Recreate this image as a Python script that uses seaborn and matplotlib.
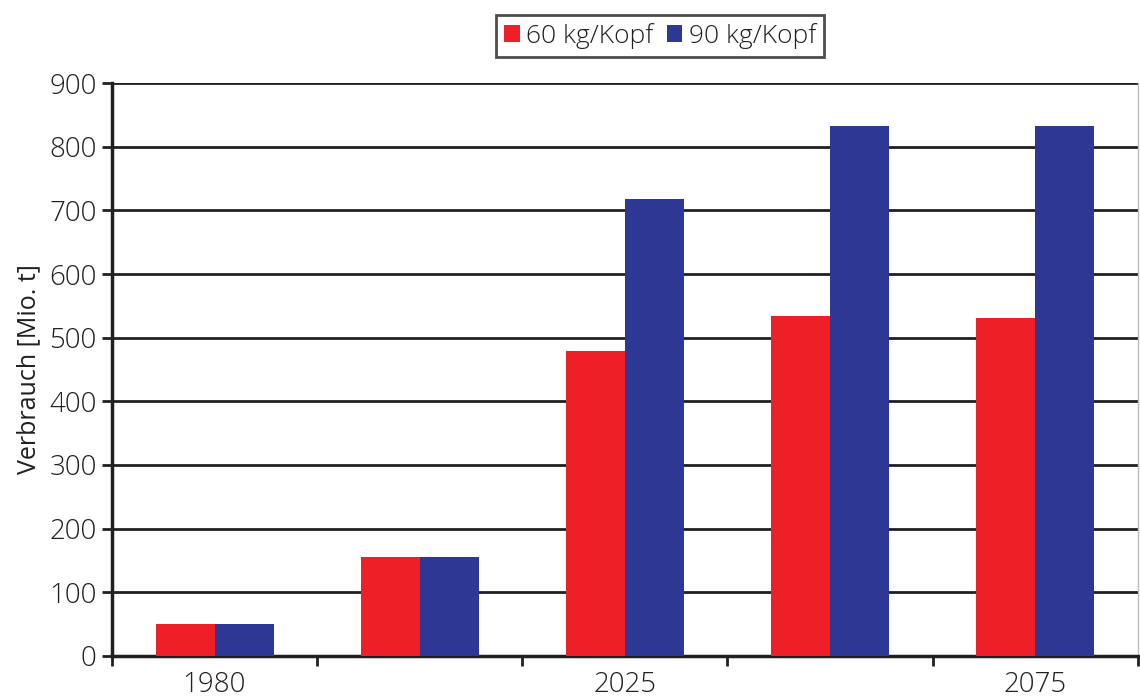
import matplotlib
matplotlib.use("Agg")
import matplotlib.pyplot as plt
import seaborn as sns
import pandas as pd
from matplotlib.patches import Patch
from matplotlib.ticker import FixedLocator, MultipleLocator

# Consumption per scenario (Mio. t)
periods = [0, 1, 2, 3, 4]
tick_labels = ["1980", "", "2025", "", "2075"]
series_names = ["60 kg/Kopf", "90 kg/Kopf"]
values_60 = [50, 155, 479, 534, 531]
values_90 = [50, 155, 718, 833, 833]

df = pd.DataFrame({
    "period": periods * 2,
    "value": values_60 + values_90,
    "series": [series_names[0]] * len(periods) + [series_names[1]] * len(periods),
})

sns.set_theme(style="white")
plt.rcParams["font.family"] = ["Open Sans", "DejaVu Sans"]
plt.rcParams["font.weight"] = "light"
text_color = "#231f20"

fig = plt.figure(figsize=(11.4, 7.0), dpi=100)
ax = fig.add_axes([0.0982, 0.0629, 0.8998, 0.8185])

palette = {series_names[0]: "#ed2027", series_names[1]: "#2c3893"}
sns.barplot(data=df, x="period", y="value", hue="series", order=periods,
            hue_order=series_names, palette=palette, width=0.575,
            saturation=1, gap=0, linewidth=0, legend=False, ax=ax, zorder=3)

ax.set_ylim(0, 900)
ax.set_xlim(-0.5, len(periods) - 0.5)
ax.yaxis.set_major_locator(MultipleLocator(100))
ax.grid(axis="y", color="#231f20", linewidth=2, zorder=0)
ax.set_axisbelow(True)

# Category boundaries carry the tick marks; labels sit at category centres
ax.xaxis.set_major_locator(FixedLocator([p - 0.5 for p in periods] + [periods[-1] + 0.5]))
ax.set_xticklabels([])
ax.set_xticks(periods, minor=True)
ax.set_xticklabels(tick_labels, minor=True)
ax.tick_params(axis="x", which="major", length=7, width=2, color=text_color, direction="out")
ax.tick_params(axis="x", which="minor", length=0, pad=11, labelsize=20, labelcolor=text_color)
ax.tick_params(axis="y", length=7, width=2, color=text_color, direction="out",
               labelsize=20, labelcolor=text_color, pad=4)
ax.tick_params(bottom=True, left=True)

ax.spines["top"].set_visible(False)
ax.spines["left"].set_color(text_color)
ax.spines["left"].set_linewidth(2.5)
ax.spines["bottom"].set_color(text_color)
ax.spines["bottom"].set_linewidth(2.5)
ax.spines["right"].set_color("#bdbdbd")
ax.spines["right"].set_linewidth(1)

ax.set_xlabel("")
ax.set_ylabel("Verbrauch [Mio. t]", fontsize=18, color=text_color, labelpad=6)

handles = [Patch(facecolor=palette[s], edgecolor="none") for s in series_names]
leg = fig.legend(handles, series_names, loc="center", bbox_to_anchor=(0.579, 0.949),
                 ncol=2, frameon=True, fancybox=False, fontsize=19,
                 handlelength=0.6, handleheight=0.6, handletextpad=0.25,
                 columnspacing=0.5, borderpad=0.3, labelcolor=text_color)
leg.get_frame().set_edgecolor(text_color)
leg.get_frame().set_linewidth(2)

fig.savefig("out.png", dpi=100)
